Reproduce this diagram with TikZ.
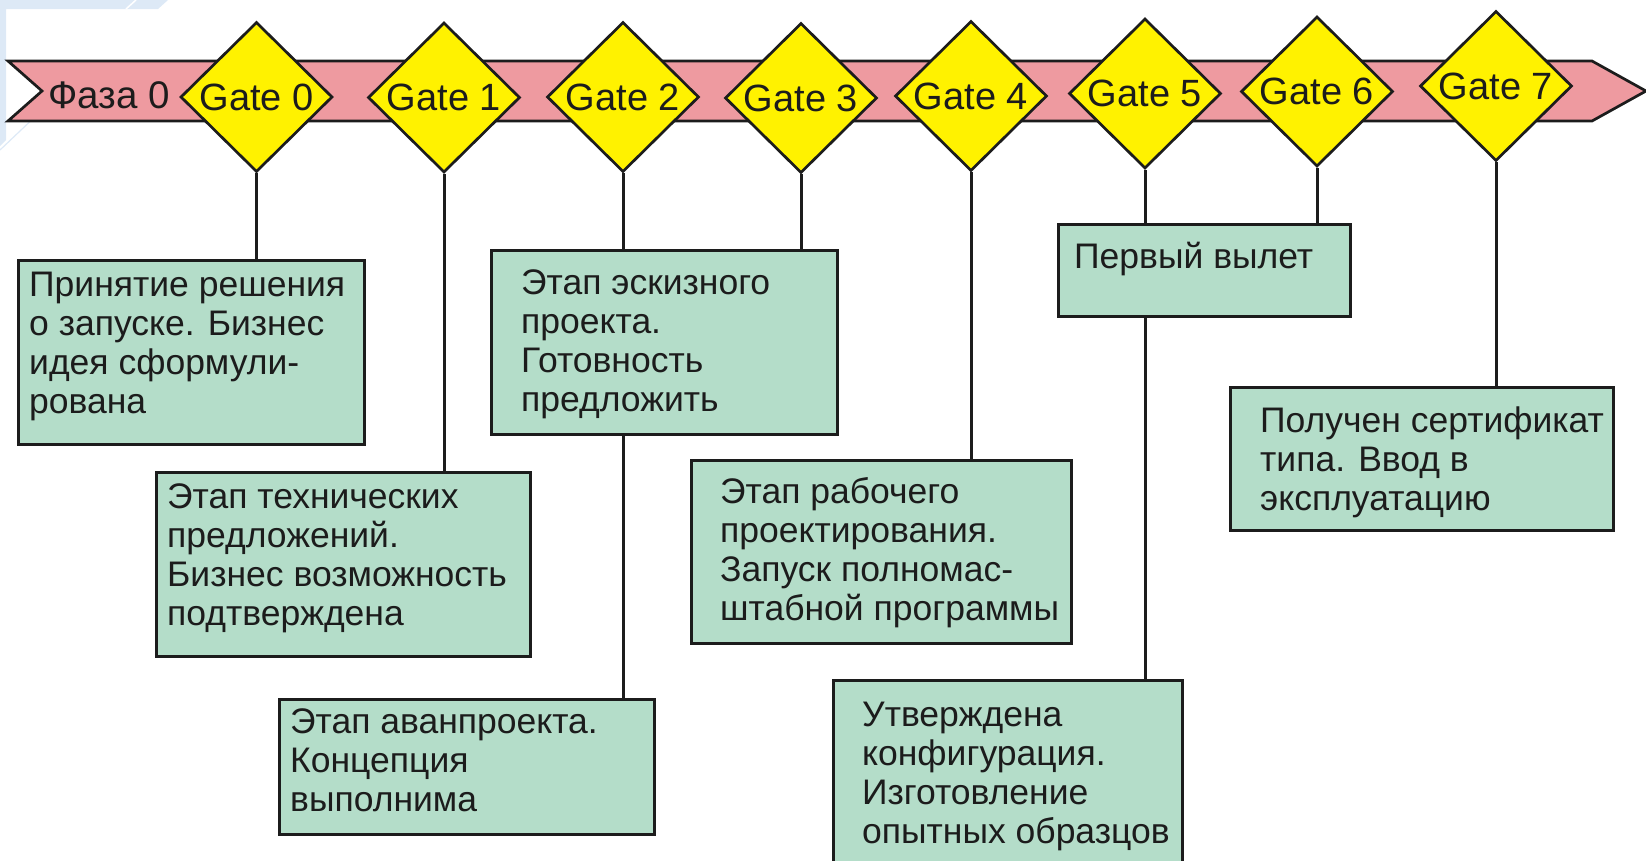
\documentclass[tikz,border=0pt]{standalone}
\usepackage{fontspec}
\setmainfont{Liberation Sans}
\usetikzlibrary{shapes.geometric}
\definecolor{bandpink}{RGB}{238,154,160}
\definecolor{gateyellow}{RGB}{255,242,0}
\definecolor{boxgreen}{RGB}{180,221,201}
\definecolor{inkc}{RGB}{28,28,28}
\definecolor{paleblue}{RGB}{221,233,246}
\pgfdeclarelayer{background}
\pgfsetlayers{background,main}
\begin{document}
\begin{tikzpicture}[x=1pt,y=-1pt,
  outl/.style={draw=inkc, line width=2.7pt, line join=miter},
  gate/.style={diamond, outl, fill=gateyellow, minimum width=152pt, minimum height=150pt, inner sep=0pt, font=\fontsize{38}{40}\selectfont, text=inkc},
  stagebox/.style={rectangle, outl, fill=boxgreen, anchor=north west, inner sep=0pt},
  txt/.style={anchor=north west, align=left, inner sep=0pt, font=\fontsize{35.5}{39}\selectfont, text=inkc},
  conn/.style={draw=inkc, line width=3pt}]
\useasboundingbox (0,0) rectangle (1646,860);
\begin{scope}
\clip (0,0) rectangle (1646,860);
% gates
\node[gate] (g0) at (256.5,97) {Gate 0};
\node[gate] (g1) at (444,97.5) {Gate 1};
\node[gate] (g2) at (623,97) {Gate 2};
\node[gate] (g3) at (801,98) {Gate 3};
\node[gate] (g4) at (971,96) {Gate 4};
\node[gate] (g5) at (1145,93.5) {Gate 5};
\node[gate] (g6) at (1317,91.5) {Gate 6};
\node[gate] (g7) at (1496,86) {Gate 7};
\node[anchor=base, inner sep=0pt, font=\fontsize{38.5}{40}\selectfont, text=inkc] (phase) at (109,108) {Фаза 0};
% boxes
\node[stagebox, minimum width=346pt, minimum height=184pt] (bA) at (17,259) {};
\node[stagebox, minimum width=374pt, minimum height=184pt] (bB) at (155,471) {};
\node[stagebox, minimum width=346pt, minimum height=184pt] (bC) at (490,249) {};
\node[stagebox, minimum width=380pt, minimum height=183pt] (bD) at (690,459) {};
\node[stagebox, minimum width=375pt, minimum height=135pt] (bE) at (278,698) {};
\node[stagebox, minimum width=349pt, minimum height=200pt] (bF) at (832,679) {};
\node[stagebox, minimum width=292pt, minimum height=92pt] (bG) at (1057,223) {};
\node[stagebox, minimum width=383pt, minimum height=143pt] (bH) at (1229,386) {};
% texts
\node[txt] (tA) at (29,270) {\rule{0pt}{26pt}Принятие решения\\о запуске. Бизнес\\идея сформули-\\рована};
\node[txt] (tB) at (167,482) {\rule{0pt}{26pt}Этап технических\\предложений.\\Бизнес возможность\\подтверждена};
\node[txt] (tC) at (521,268) {\rule{0pt}{26pt}Этап эскизного\\проекта.\\Готовность\\предложить};
\node[txt] (tD) at (720,477) {\rule{0pt}{26pt}Этап рабочего\\проектирования.\\Запуск полномас-\\штабной программы};
\node[txt] (tE) at (290,707) {\rule{0pt}{26pt}Этап аванпроекта.\\Концепция\\выполнима};
\node[txt] (tF) at (862,700) {\rule{0pt}{26pt}Утверждена\\конфигурация.\\Изготовление\\опытных образцов};
\node[txt] (tG) at (1074,242) {\rule{0pt}{26pt}Первый вылет};
\node[txt] (tH) at (1260,406) {\rule{0pt}{26pt}Получен сертификат\\типа. Ввод в\\эксплуатацию};
\begin{pgfonlayer}{background}
\fill[paleblue] (0,0) -- (168,0) -- (158,9) -- (6,9) -- (6,140) -- (0,146) -- cycle;
\draw[white, line width=1.5pt] (126,9) -- (136,0);
\draw[paleblue, line width=1.2pt] (0,150) -- (40,112);
\draw[outl, fill=bandpink] (8,61) -- (1592,61) -- (1646,91) -- (1592,121) -- (8,121) -- (42,91) -- cycle;
\draw[conn] (g0.south) -- (g0.south |- bA.north);
\draw[conn] (g1.south) -- (g1.south |- bB.north);
\draw[conn] (g2.south) -- (g2.south |- bE.north);
\draw[conn] (g3.south) -- (g3.south |- bC.north);
\draw[conn] (g4.south) -- (g4.south |- bD.north);
\draw[conn] (g5.south) -- (g5.south |- bF.north);
\draw[conn] (g6.south) -- (g6.south |- bG.north);
\draw[conn] (g7.south) -- (g7.south |- bH.north);
\end{pgfonlayer}
\end{scope}
\end{tikzpicture}
\end{document}
